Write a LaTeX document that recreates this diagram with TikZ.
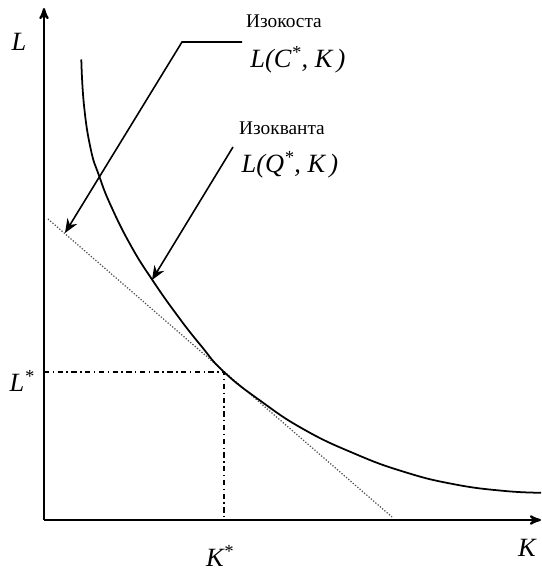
\documentclass[tikz,border=0pt]{standalone}
\usepackage{fontspec}
\setmainfont{Liberation Serif}
\usepackage{tikz}
\usetikzlibrary{calc}
\usetikzlibrary{arrows,arrows.meta}
\tikzset{
  axis/.style={black,line width=1.2pt,->,>=stealth'},
  pointer/.style={black,line width=0.9pt,-{Stealth[length=8pt,width=6.5pt]}},
  isoquant/.style={black,line width=1pt},
  isocost/.style={black!70,line width=0.7pt,densely dotted},
  guide/.style={black,line width=0.7pt,dash pattern=on 3pt off 2pt on 0.8pt off 2pt},
  curvename/.style={font=\fontsize{11}{13}\selectfont,inner sep=1pt},
  funcname/.style={font=\fontsize{15}{18}\selectfont\itshape,inner sep=1pt},
  axisname/.style={font=\fontsize{15}{18}\selectfont\itshape,inner sep=1pt}
}

\begin{document}
\begin{tikzpicture}
\useasboundingbox (-0.88,-1.04) rectangle (9.94,10.4);
% axes
\coordinate (O) at (0,0);
\coordinate (Ltop) at (0,10.24);
\coordinate (Kend) at (9.94,0);
\draw[axis] (O)--(Ltop);
\draw[axis] (O)--(Kend);
\node[axisname] (Lname) at (-0.5,9.56) {L};
\node[axisname] (Kname) at (9.66,-0.56) {K};
% optimum point
\coordinate (E) at (3.6,2.96);
\coordinate (Lstar) at (0,2.96);
\coordinate (Kstar) at (3.6,0);
\draw[guide] (Lstar)--(E)--(Kstar);
\node[axisname] (Lstarname) at (-0.44,2.78) {L\textsuperscript{*}};
\node[axisname] (Kstarname) at (3.52,-0.72) {K\textsuperscript{*}};
% isocost line
\coordinate (Cleft) at (0.08,6.02);
\coordinate (Cright) at (6.96,0.06);
\draw[isocost] (Cleft)--(Cright);
% isoquant
\draw[isoquant] plot[smooth,tension=0.8] coordinates {(0.746,9.21) (0.80,8.292) (0.934,7.421) (1.1,6.89) (1.334,6.293) (1.734,5.493) (2.166,4.802) (2.666,4.092) (3.134,3.493) (3.6,2.96) (4.32,2.39) (5.186,1.818) (6.186,1.338) (7.186,0.968) (8.186,0.718) (9.186,0.583) (9.94,0.545)};
% labels and pointers
\node[curvename] (costname) at (4.8,9.98) {Изокоста};
\node[funcname] (costfunc) at (5.08,9.2) {L(C\textsuperscript{*}, K\,)};
\node[curvename] (quantname) at (4.76,7.84) {Изокванта};
\node[funcname] (quantfunc) at (4.92,7.1) {L(Q\textsuperscript{*}, K\,)};
\coordinate (costEnd) at (3.96,9.56);
\coordinate (costElbow) at (2.76,9.56);
\coordinate (costTip) at (0.42,5.74);
\draw[pointer] (costEnd)--(costElbow)--(costTip);
\coordinate (quantStart) at (3.78,7.46);
\coordinate (quantTip) at (2.16,4.8);
\draw[pointer] (quantStart)--(quantTip);
\end{tikzpicture}
\end{document}
